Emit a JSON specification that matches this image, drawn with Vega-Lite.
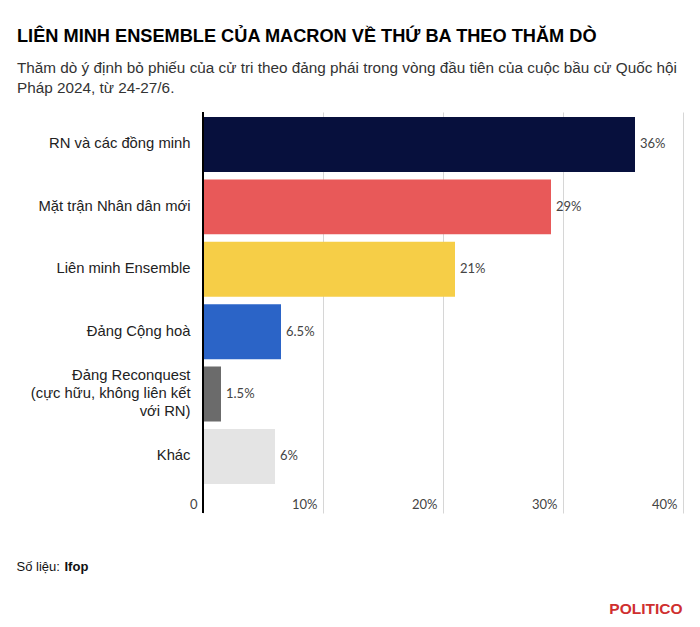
{
  "$schema": "https://vega.github.io/schema/vega-lite/v6.json",
  "autosize": {"type": "none"},
  "padding": {"left": 203, "top": 112, "right": 17, "bottom": 114},
  "width": 480,
  "height": 401,
  "background": "white",
  "title": {
    "text": "LIÊN MINH ENSEMBLE CỦA MACRON VỀ THỨ BA THEO THĂM DÒ",
    "subtitle": ["Thăm dò ý định bỏ phiếu của cử tri theo đảng phái trong vòng đầu tiên của cuộc bầu cử Quốc hội", "Pháp 2024, từ 24-27/6."],
    "anchor": "start",
    "frame": "group",
    "dx": -186,
    "font": "Liberation Sans",
    "fontSize": 18.2,
    "fontWeight": "bold",
    "color": "#000000",
    "subtitleFont": "Liberation Sans",
    "subtitleFontSize": 15.3,
    "subtitleColor": "#333333",
    "subtitleLineHeight": 20,
    "subtitlePadding": 15,
    "offset": 14
  },
  "data": {
    "values": [
      {"party": "RN và các đồng minh", "value": 36, "label": "36%"},
      {"party": "Mặt trận Nhân dân mới", "value": 29, "label": "29%"},
      {"party": "Liên minh Ensemble", "value": 21, "label": "21%"},
      {"party": "Đảng Cộng hoà", "value": 6.5, "label": "6.5%"},
      {"party": "Đảng Reconquest|(cực hữu, không liên kết|với RN)", "value": 1.5, "label": "1.5%"},
      {"party": "Khác", "value": 6, "label": "6%"}
    ]
  },
  "layer": [
    {
      "mark": {"type": "bar"},
      "encoding": {
        "y": {
          "field": "party",
          "type": "nominal",
          "sort": null,
          "scale": {"paddingInner": 0.12, "paddingOuter": 0.273, "align": 0.147},
          "axis": {
            "title": null,
            "domain": false,
            "ticks": false,
            "labelPadding": 13,
            "labelFont": "Liberation Sans",
            "labelFontSize": 14.8,
            "labelColor": "#222222",
            "labelLimit": 300,
            "labelLineHeight": 18,
            "labelOffset": {"condition": {"test": "indexof(datum.label, '|') >= 0", "value": -18}, "value": 0},
            "labelExpr": "split(datum.label, '|')"
          }
        },
        "x": {
          "field": "value",
          "type": "quantitative",
          "scale": {"domain": [0, 40], "nice": false},
          "axis": {
            "orient": "bottom",
            "values": [0, 10, 20, 30, 40],
            "labelExpr": "datum.value == 0 ? '0' : datum.value + '%'",
            "grid": true,
            "gridColor": "#d6d6d6",
            "gridWidth": 1,
            "domain": false,
            "ticks": false,
            "labelAlign": "right",
            "labelBaseline": "middle",
            "labelOffset": -6,
            "labelPadding": -9,
            "labelFont": "Lato",
            "labelFontSize": 13,
            "labelColor": "#444444",
            "labelFlush": false,
            "title": "Số liệu:",
            "titleFont": "Liberation Sans",
            "titleFontSize": 13,
            "titleFontWeight": "normal",
            "titleColor": "#111111",
            "titleAnchor": "start",
            "titleAlign": "left",
            "titleBaseline": "alphabetic",
            "titleX": -187,
            "titleY": 57
          }
        },
        "color": {
          "field": "party",
          "type": "nominal",
          "legend": null,
          "scale": {
            "domain": ["RN và các đồng minh", "Mặt trận Nhân dân mới", "Liên minh Ensemble", "Đảng Cộng hoà", "Đảng Reconquest|(cực hữu, không liên kết|với RN)", "Khác"],
            "range": ["#07103d", "#e85959", "#f6ce47", "#2b64c7", "#6b6b6b", "#e4e4e4"]
          }
        }
      }
    },
    {
      "mark": {"type": "text", "align": "left", "baseline": "middle", "dx": 5, "font": "Lato", "fontSize": 13, "color": "#444444"},
      "encoding": {
        "y": {"field": "party", "type": "nominal", "sort": null},
        "x": {
          "field": "value",
          "type": "quantitative",
          "scale": {"domain": [0, 40], "nice": false},
          "axis": {
            "orient": "bottom",
            "labels": false,
            "ticks": false,
            "domain": false,
            "grid": false,
            "title": "Ifop",
            "titleFont": "Liberation Sans",
            "titleFontSize": 13,
            "titleFontWeight": "bold",
            "titleColor": "#111111",
            "titleAnchor": "start",
            "titleAlign": "left",
            "titleBaseline": "alphabetic",
            "titleX": -139,
            "titleY": 57
          }
        },
        "text": {"field": "label"}
      }
    },
    {
      "mark": {"type": "rule", "color": "#000000", "strokeWidth": 2},
      "encoding": {
        "x": {
          "datum": 0,
          "type": "quantitative",
          "scale": {"domain": [0, 40], "nice": false},
          "axis": {
            "orient": "bottom",
            "labels": false,
            "ticks": false,
            "domain": false,
            "grid": false,
            "title": "POLITICO",
            "titleFont": "Liberation Sans",
            "titleFontSize": 15.5,
            "titleFontWeight": "bold",
            "titleColor": "#cf2f2f",
            "titleAnchor": "end",
            "titleAlign": "right",
            "titleBaseline": "alphabetic",
            "titleX": 479,
            "titleY": 100
          }
        }
      }
    }
  ],
  "resolve": {"scale": {"x": "independent"}, "axis": {"x": "independent"}},
  "config": {"view": {"stroke": null}}
}
